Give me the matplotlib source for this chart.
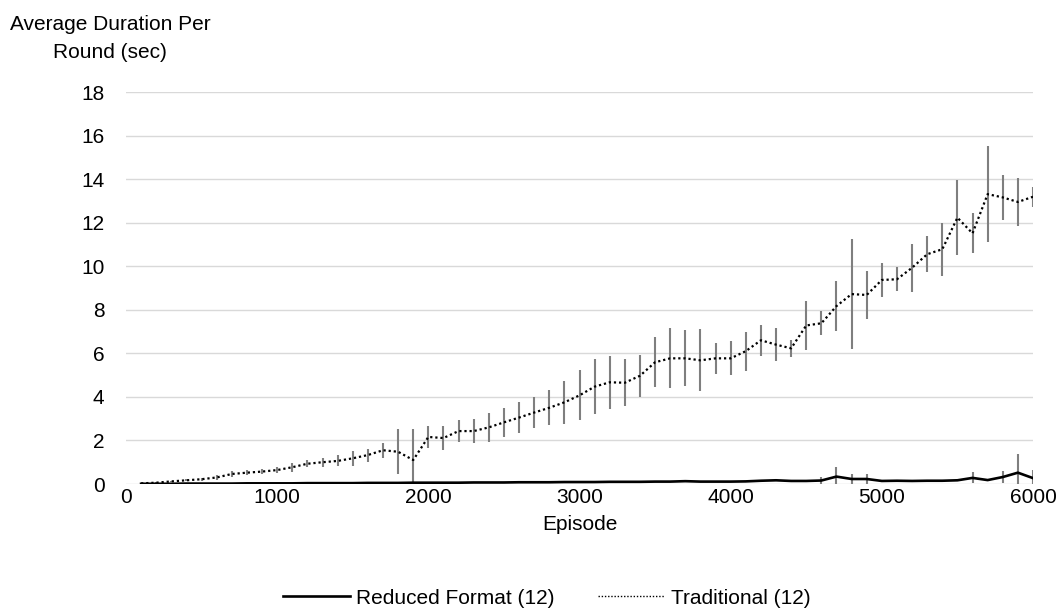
import matplotlib.pyplot as plt

plt.rcParams['font.family'] = ['Liberation Sans', 'DejaVu Sans']

episodes = list(range(100, 6100, 100))

traditional = [
    0.03, 0.06, 0.12, 0.17, 0.22, 0.30, 0.46, 0.52, 0.57, 0.64,
    0.77, 0.93, 1.00, 1.06, 1.18, 1.33, 1.55, 1.48, 1.10, 2.16,
    2.11, 2.43, 2.43, 2.60, 2.83, 3.05, 3.28, 3.50, 3.75, 4.07,
    4.47, 4.67, 4.65, 4.97, 5.59, 5.77, 5.77, 5.68, 5.77, 5.77,
    6.10, 6.60, 6.40, 6.23, 7.28, 7.38, 8.17, 8.72, 8.68, 9.37,
    9.40, 9.93, 10.55, 10.78, 12.23, 11.51, 13.31, 13.16, 12.95, 13.19,
]
traditional_err = [
    0.02, 0.03, 0.04, 0.05, 0.06, 0.12, 0.12, 0.12, 0.12, 0.15,
    0.20, 0.15, 0.20, 0.25, 0.35, 0.30, 0.35, 1.03, 1.44, 0.52,
    0.55, 0.52, 0.55, 0.65, 0.65, 0.72, 0.72, 0.81, 0.99, 1.15,
    1.26, 1.22, 1.07, 0.96, 1.14, 1.38, 1.28, 1.43, 0.70, 0.78,
    0.90, 0.72, 0.75, 0.40, 1.13, 0.55, 1.15, 2.52, 1.09, 0.79,
    0.55, 1.11, 0.83, 1.22, 1.72, 0.92, 2.19, 1.02, 1.11, 0.47,
]

reduced = [
    0.01, 0.01, 0.01, 0.02, 0.02, 0.02, 0.02, 0.03, 0.03, 0.03,
    0.03, 0.04, 0.04, 0.04, 0.04, 0.05, 0.05, 0.05, 0.06, 0.06,
    0.06, 0.06, 0.07, 0.07, 0.07, 0.08, 0.08, 0.08, 0.09, 0.09,
    0.09, 0.10, 0.10, 0.10, 0.11, 0.11, 0.13, 0.11, 0.11, 0.11,
    0.12, 0.15, 0.17, 0.14, 0.14, 0.16, 0.34, 0.23, 0.23, 0.14,
    0.15, 0.14, 0.15, 0.15, 0.17, 0.28, 0.18, 0.32, 0.52, 0.27,
]
reduced_err = [
    0.01, 0.01, 0.01, 0.01, 0.01, 0.01, 0.01, 0.01, 0.01, 0.01,
    0.01, 0.01, 0.01, 0.01, 0.01, 0.01, 0.01, 0.01, 0.01, 0.01,
    0.01, 0.01, 0.01, 0.01, 0.01, 0.01, 0.01, 0.01, 0.01, 0.01,
    0.02, 0.02, 0.02, 0.02, 0.02, 0.02, 0.05, 0.02, 0.02, 0.02,
    0.02, 0.03, 0.05, 0.03, 0.03, 0.15, 0.45, 0.22, 0.22, 0.03,
    0.03, 0.03, 0.03, 0.03, 0.03, 0.25, 0.03, 0.28, 0.85, 0.38,
]

fs = 15

fig = plt.figure(figsize=(10.6, 6.16), dpi=100)
ax = fig.add_axes([126 / 1060, 1 - 484 / 616, 907 / 1060, 392 / 616])

grey = '#7f7f7f'
ax.errorbar(episodes, reduced, yerr=reduced_err, fmt='none',
            ecolor=grey, elinewidth=1.5, capsize=0, zorder=2)
ax.errorbar(episodes, traditional, yerr=traditional_err, fmt='none',
            ecolor=grey, elinewidth=1.5, capsize=0, zorder=2)
ax.plot(episodes, reduced, color='black', linewidth=1.9,
        label='Reduced Format (12)', zorder=3)
ax.plot(episodes, traditional, color='black', linewidth=1.6,
        linestyle=(0, (1, 1.3)), label='Traditional (12)', zorder=3)

ax.set_xlim(0, 6000)
ax.set_ylim(0, 18)
ax.set_xticks(range(0, 6001, 1000))
ax.set_yticks(range(0, 19, 2))
ax.tick_params(axis='both', length=0, labelsize=fs, colors='black')
ax.tick_params(axis='y', pad=15.5)
ax.tick_params(axis='x', pad=3)
ax.grid(axis='y', color='#d9d9d9', linewidth=1)
ax.set_axisbelow(True)
for s in ax.spines.values():
    s.set_visible(False)

ax.set_xlabel('Episode', fontsize=fs, labelpad=6)
fig.text(110 / 1060, 1 - 30 / 616, 'Average Duration Per', ha='center',
         va='baseline', fontsize=fs)
fig.text(110 / 1060, 1 - 58 / 616, 'Round (sec)', ha='center',
         va='baseline', fontsize=fs)

leg = fig.legend(loc='center', bbox_to_anchor=(547 / 1060, 1 - 598 / 616),
                 ncol=2, frameon=False, fontsize=fs, handlelength=3.2,
                 handletextpad=0.3, columnspacing=2.1)
leg.get_lines()[1].set_linewidth(1.0)

fig.savefig('out.png', dpi=100)
